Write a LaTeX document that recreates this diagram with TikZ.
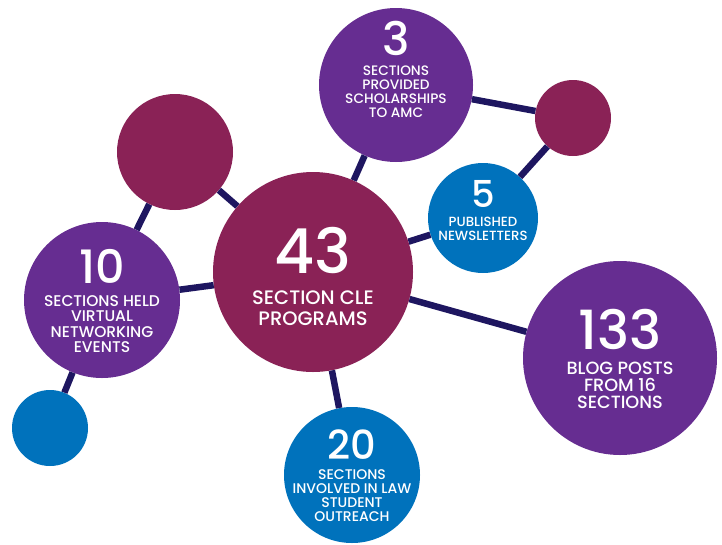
\documentclass[tikz,border=0pt]{standalone}
\usepackage{fontspec}
\setmainfont{Poppins}
\newfontfamily\labfont{Poppins Medium}
\usetikzlibrary{positioning}

\definecolor{aplum}{RGB}{102,45,145}
\definecolor{awine}{RGB}{138,34,86}
\definecolor{ablue}{RGB}{0,114,188}
\definecolor{anavy}{RGB}{30,22,96}

\newcommand{\statnum}[2]{{\fontsize{#1}{#1}\selectfont #2}}

\begin{document}
\begin{tikzpicture}[
    x=1pt, y=-1pt,
    bubble/.style={circle, inner sep=0pt, fill=#1},
    stat/.style={text=white, align=center, inner sep=0pt},
    every edge/.style={draw=anavy, line width=6.5pt},
    on grid
    ]
    \useasboundingbox (0,0) rectangle (722,544);

    %% Center: CLE programs
    \node[bubble=awine, minimum size=200pt](cle) at (313,272){};
    \node[stat, font=\labfont\fontsize{19.5}{21}\selectfont](cle-t)[below=4pt of cle]{\statnum{62}{43}\\[10pt]SECTION CLE\\PROGRAMS};

    %% Left side
    \node[bubble=awine, minimum size=116pt](dotw)[above left=120pt and 138pt of cle]{} edge (cle);
    \node[bubble=aplum, minimum size=156pt](ten)[below left=28pt and 211pt of cle]{} edge (cle) edge (dotw);
    \node[stat, font=\labfont\fontsize{15.5}{15.5}\selectfont](ten-t)[below=1pt of ten]{\statnum{46}{10}\\[7pt]SECTIONS HELD\\VIRTUAL\\NETWORKING\\EVENTS};
    \node[bubble=ablue, minimum size=76pt](dotb)[below left=128pt and 52pt of ten]{} edge (ten);

    %% Top side
    \node[bubble=aplum, minimum size=154pt](three)[above right=187pt and 83pt of cle]{} edge (cle);
    \node[stat, font=\labfont\fontsize{13.7}{14}\selectfont](three-t)[above=16pt of three]{\statnum{46}{3}\\[6pt]SECTIONS\\PROVIDED\\SCHOLARSHIPS\\TO AMC};
    \node[bubble=awine, minimum size=76pt](dotm)[below right=33pt and 177pt of three]{} edge (three);
    \node[bubble=ablue, minimum size=110pt](five)[above right=54pt and 170pt of cle]{} edge (cle) edge (dotm);
    \node[stat, font=\labfont\fontsize{13.3}{14}\selectfont](five-t)[above=7pt of five]{\statnum{37}{5}\\[5pt]PUBLISHED\\NEWSLETTERS};

    %% Right and bottom
    \node[bubble=aplum, minimum size=194pt](blog)[below right=86pt and 307pt of cle]{} edge (cle);
    \node[stat, font=\labfont\fontsize{17.7}{17}\selectfont](blog-t)[below=1pt of blog]{\statnum{54}{133}\\[8pt]BLOG POSTS\\FROM 16\\SECTIONS};
    \node[bubble=ablue, minimum size=136pt](twenty)[below right=203pt and 39pt of cle]{} edge (cle);
    \node[stat, font=\labfont\fontsize{14}{14}\selectfont](twenty-t)[below=1pt of twenty]{\statnum{40}{20}\\[6pt]SECTIONS\\INVOLVED IN LAW\\STUDENT\\OUTREACH};
\end{tikzpicture}
\end{document}
